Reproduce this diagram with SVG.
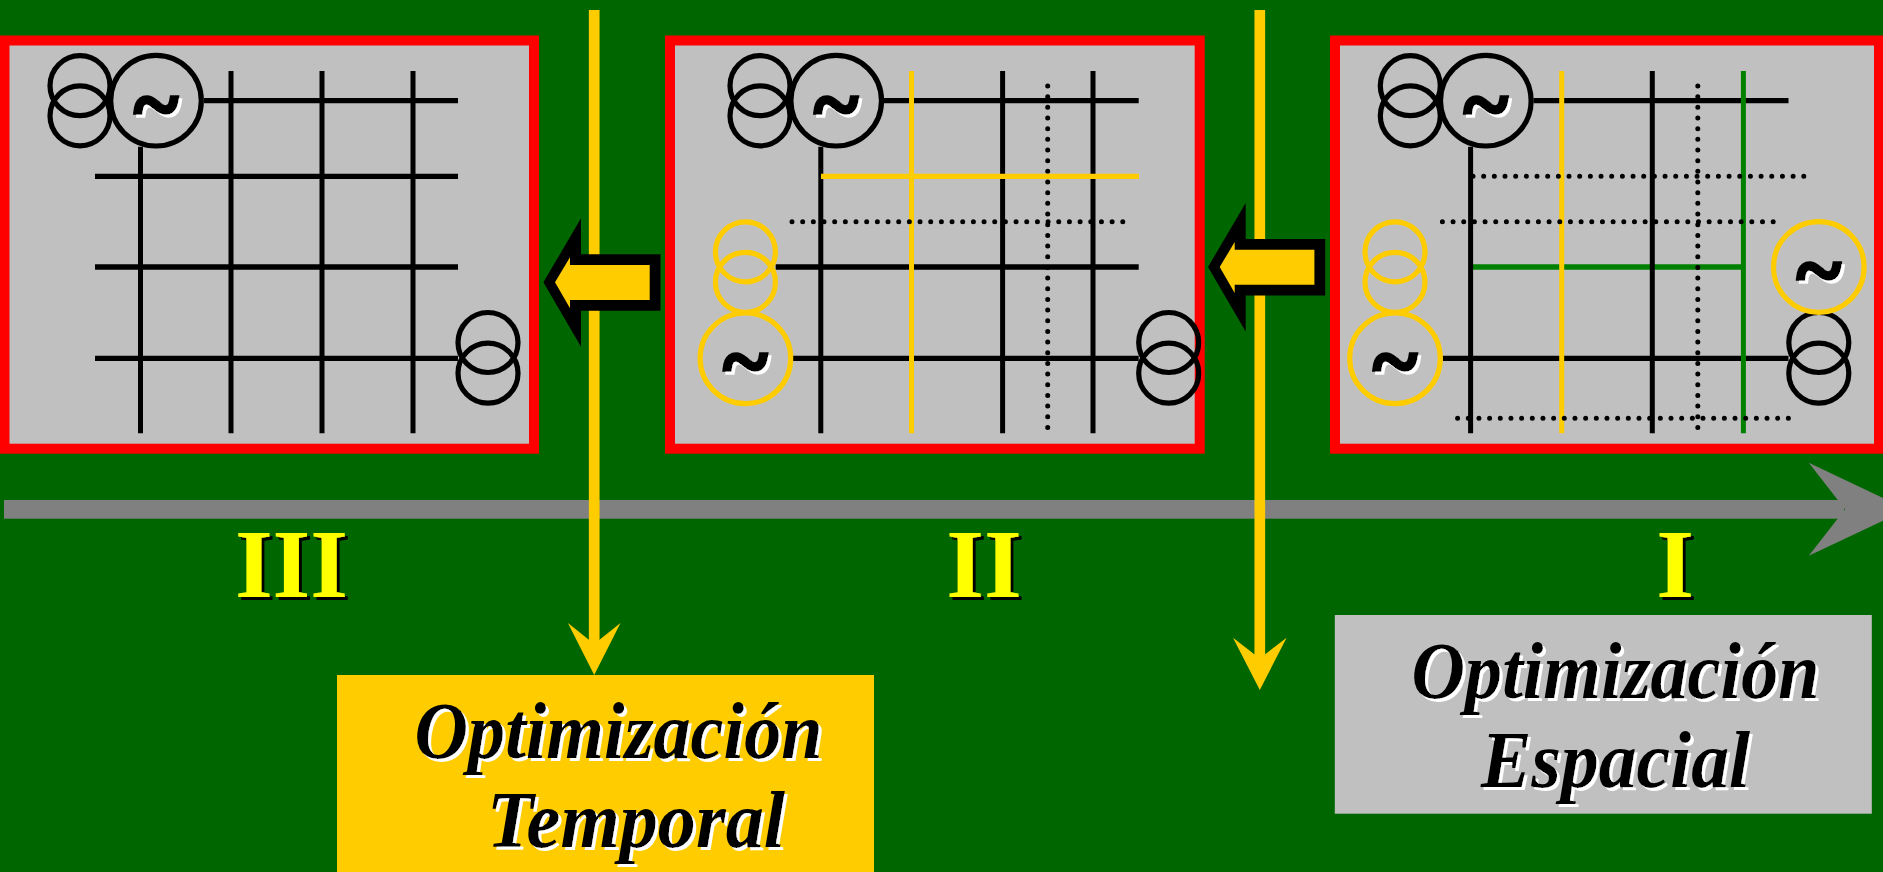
<svg xmlns="http://www.w3.org/2000/svg" width="1883" height="872" viewBox="0 0 1883 872">
<style>
.panel{fill:#c0c0c0;stroke:#f00;stroke-width:10}
line{fill:none}
.h{stroke:#000;stroke-width:5.3}
.v{stroke:#000;stroke-width:5}
.hy{stroke:#fc0;stroke-width:5.3}
.vy{stroke:#fc0;stroke-width:5}
.hg{stroke:#008000;stroke-width:5.3}
.vg{stroke:#008000;stroke-width:5}
.dot{stroke:#000;stroke-width:5;stroke-linecap:round;stroke-dasharray:0 10.67}
.ck{fill:none;stroke:#000;stroke-width:5.2}
.cy{fill:none;stroke:#fc0;stroke-width:5.2}
.t{font-family:"Liberation Serif","Times New Roman",serif;font-weight:bold}
.til{font-size:84px;text-anchor:middle;fill:#000;stroke:#000;stroke-width:3.5;filter:url(#ws)}
.num{font-size:97px;text-anchor:middle;fill:#ff0;filter:url(#bs)}
.lab{font-size:80px;font-style:italic;text-anchor:middle;fill:#000;filter:url(#ws)}
.ay{fill:#fc0}
</style>
<defs>
<filter id="ws" x="-20%" y="-20%" width="140%" height="140%"><feDropShadow dx="3" dy="3" stdDeviation="0" flood-color="#fff"/></filter>
<filter id="bs" x="-20%" y="-20%" width="140%" height="140%"><feDropShadow dx="3" dy="3" stdDeviation="0" flood-color="#000"/></filter>
</defs>
<rect width="1883" height="872" fill="#006600"/>
<g id="connectors">
<rect x="4" y="500" width="1840" height="18.7" fill="#808080"/>
<polygon points="1808.8,462.7 1907,509.3 1808.8,555.7 1845,509.3" fill="#808080"/>
<line x1="594.2" y1="10" x2="594.2" y2="650" stroke="#fc0" stroke-width="10.7"/>
<polygon class="ay" points="567.9,623 594.2,644 620.5,623 594.2,675"/>
<line x1="1259.8" y1="10" x2="1259.8" y2="665" stroke="#fc0" stroke-width="10.7"/>
<polygon class="ay" points="1233,637.7 1259.8,658.500 1286.6,637.7 1259.8,690"/>
</g>
<g id="panel-III">
<rect class="panel" x="4.5" y="40.5" width="529.5" height="408.2"/>
<line class="h" x1="204" y1="100.7" x2="458" y2="100.7"/>
<line class="h" x1="95" y1="176.3" x2="458" y2="176.3"/>
<line class="h" x1="95" y1="267" x2="458" y2="267"/>
<line class="h" x1="95" y1="358.3" x2="458" y2="358.3"/>
<line class="v" x1="140.5" y1="146.7" x2="140.5" y2="433.3"/>
<line class="v" x1="231" y1="71" x2="231" y2="433.3"/>
<line class="v" x1="322" y1="71" x2="322" y2="433.3"/>
<line class="v" x1="413" y1="71" x2="413" y2="433.3"/>
<circle class="ck" cx="80" cy="85.7" r="30"/>
<circle class="ck" cx="80" cy="115.8" r="30"/>
<circle class="ck" cx="156" cy="100.7" r="45.3"/>
<text class="t til" x="156" y="133">~</text>
<circle class="ck" cx="488" cy="342.5" r="30"/>
<circle class="ck" cx="488" cy="373.2" r="30"/>
</g>
<g id="panel-II">
<rect class="panel" x="670" y="40.5" width="529.7" height="408.2"/>
<line class="h" x1="883.7" y1="100.7" x2="1138.7" y2="100.7"/>
<line class="h" x1="775.7" y1="267" x2="1138.7" y2="267"/>
<line class="h" x1="793" y1="358.3" x2="1138.7" y2="358.3"/>
<line class="dot" x1="1047.7" y1="86" x2="1047.7" y2="428"/>
<line class="v" x1="820.8" y1="146.7" x2="820.8" y2="433.3"/>
<line class="v" x1="1002.6" y1="71" x2="1002.6" y2="433.3"/>
<line class="v" x1="1093" y1="71" x2="1093" y2="433.3"/>
<line class="hy" x1="821" y1="176.3" x2="1139" y2="176.3"/>
<line class="vy" x1="911.5" y1="71" x2="911.5" y2="433.3"/>
<line class="dot" x1="792" y1="221.7" x2="1124" y2="221.7"/>
<circle class="ck" cx="760" cy="85.7" r="30"/>
<circle class="ck" cx="760" cy="115.8" r="30"/>
<circle class="ck" cx="836.2" cy="100.7" r="45.3"/>
<text class="t til" x="836.2" y="133">~</text>
<circle class="cy" cx="745.4" cy="251.8" r="30"/>
<circle class="cy" cx="745.4" cy="282.3" r="30"/>
<circle class="cy" cx="745.4" cy="358.3" r="45.3"/>
<text class="t til" x="745.4" y="390">~</text>
<circle class="ck" cx="1168.7" cy="342.5" r="30"/>
<circle class="ck" cx="1168.7" cy="373.2" r="30"/>
</g>
<g id="panel-I">
<rect class="panel" x="1335" y="40.5" width="544" height="408.2"/>
<line class="h" x1="1533.5" y1="100.7" x2="1788.5" y2="100.7"/>
<line class="hg" x1="1473" y1="267" x2="1741" y2="267"/>
<line class="h" x1="1442.8" y1="358.3" x2="1788.5" y2="358.3"/>
<line class="v" x1="1470.6" y1="146.7" x2="1470.6" y2="433.3"/>
<line class="v" x1="1652.3" y1="71" x2="1652.3" y2="433.3"/>
<line class="vy" x1="1561.7" y1="71" x2="1561.7" y2="433.3"/>
<line class="vg" x1="1743.4" y1="71" x2="1743.4" y2="433.3"/>
<line class="dot" x1="1697.8" y1="86" x2="1697.8" y2="428"/>
<line class="dot" x1="1473" y1="176.3" x2="1805" y2="176.3"/>
<line class="dot" x1="1442.4" y1="221.7" x2="1775" y2="221.7"/>
<line class="dot" x1="1457.6" y1="418.3" x2="1790" y2="418.3"/>
<circle class="ck" cx="1410.3" cy="85.7" r="30"/>
<circle class="ck" cx="1410.3" cy="115.8" r="30"/>
<circle class="ck" cx="1485.8" cy="100.7" r="45.3"/>
<text class="t til" x="1485.8" y="133">~</text>
<circle class="cy" cx="1395" cy="251.8" r="30"/>
<circle class="cy" cx="1395" cy="282.3" r="30"/>
<circle class="cy" cx="1395" cy="358.3" r="45.3"/>
<text class="t til" x="1395" y="390">~</text>
<circle class="ck" cx="1818.8" cy="342.5" r="30"/>
<circle class="ck" cx="1818.8" cy="373.2" r="30"/>
<circle class="cy" cx="1818.8" cy="267" r="45.3"/>
<text class="t til" x="1818.8" y="299">~</text>
</g>
<g id="step-arrow-1">
<polygon points="543.4,282.3 581,218.3 581,254.3 660.5,254.3 660.5,310.7 581,310.7 581,346.7" fill="#000"/>
<polygon class="ay" points="555,282.3 570,257.3 570,265 649.7,265 649.7,300 570,300 570,308.3"/>
</g>
<g id="step-arrow-2">
<polygon points="1208,267 1245.7,203 1245.7,239 1325.2,239 1325.2,295.4 1245.7,295.4 1245.7,331.4" fill="#000"/>
<polygon class="ay" points="1219.7,267 1234.7,242 1234.7,249.7 1314.4,249.7 1314.4,284.7 1234.7,284.7 1234.7,293"/>
</g>
<g id="stage-III"><text class="t num" x="291.500" y="596.700">III</text></g>
<g id="stage-II"><text class="t num" x="984" y="596.700">II</text></g>
<g id="stage-I"><text class="t num" x="1675" y="596.700">I</text></g>
<g id="box-temporal">
<rect x="337" y="675" width="537" height="197" fill="#fc0"/>
<text class="t lab" x="618.500" y="758" textLength="408" lengthAdjust="spacingAndGlyphs">Optimización</text>
<text class="t lab" x="636" y="847" textLength="298" lengthAdjust="spacingAndGlyphs">Temporal</text>
</g>
<g id="box-espacial">
<rect x="1334.8" y="615" width="537" height="198.700" fill="#c0c0c0"/>
<text class="t lab" x="1615.500" y="698" textLength="408" lengthAdjust="spacingAndGlyphs">Optimización</text>
<text class="t lab" x="1615.500" y="787" textLength="269" lengthAdjust="spacingAndGlyphs">Espacial</text>
</g>
</svg>
